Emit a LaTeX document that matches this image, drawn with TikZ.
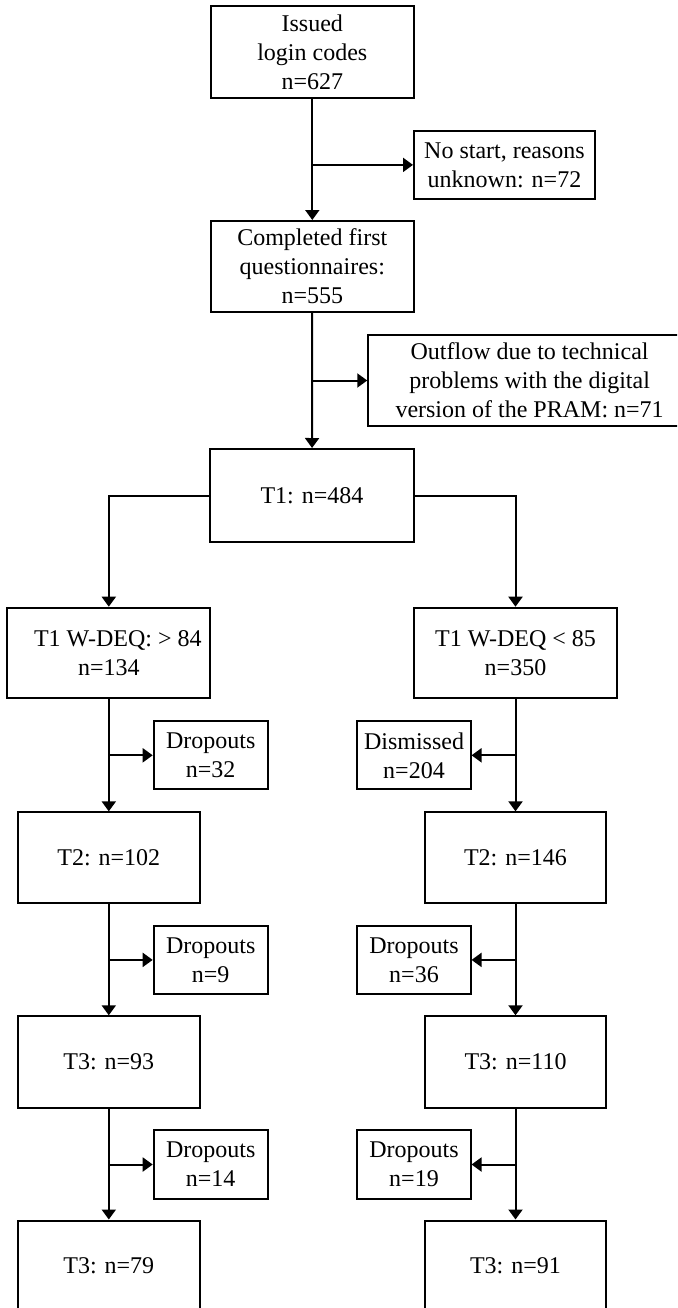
\documentclass[tikz,border=0pt]{standalone}
\usepackage{fontspec}
\setmainfont{Liberation Serif}
\usetikzlibrary{arrows.meta}
\tikzset{
  box/.style={draw, line width=2pt, inner sep=0pt, align=center,
    font=\fontsize{24}{29}\selectfont},
  arr/.style={line width=2pt, -{Triangle[width=14pt,length=10pt]}}
}
\begin{document}
\begin{tikzpicture}[x=1pt,y=-1pt]
\clip (0,0) rectangle (677,1308);
% main trunk
\node[box, minimum width=203.3pt, minimum height=92.3pt] (issued) at (312.3,51.9) {Issued\\login codes\\n=627};
\node[box, minimum width=181pt, minimum height=68.3pt] (nostart) at (504.5,164.9) {No start, reasons\\unknown: n=72};
\node[box, minimum width=203.3pt, minimum height=91pt] (completed) at (312.3,266.5) {Completed first\\questionnaires:\\n=555};
\node[box, minimum width=322.7pt, minimum height=91pt] (outflow) at (529.6,380.5) {Outflow due to technical\\problems with the digital\\version of the PRAM: n=71};
\node[box, minimum width=203.3pt, minimum height=93pt] (t1) at (312,495.5) {T1: n=484};
% left branch
\node[box, minimum width=203pt, minimum height=90.6pt] (l1) at (108.8,653) {\hspace*{18pt}T1 W-DEQ: > 84\\n=134};
\node[box, minimum width=114pt, minimum height=68pt] (ld1) at (210.7,755.3) {Dropouts\\n=32};
\node[box, minimum width=181.4pt, minimum height=90.7pt] (l2) at (108.8,857.7) {T2: n=102};
\node[box, minimum width=114pt, minimum height=68.3pt] (ld2) at (210.7,959.9) {Dropouts\\n=9};
\node[box, minimum width=181.4pt, minimum height=91.4pt] (l3) at (108.8,1062) {T3: n=93};
\node[box, minimum width=114pt, minimum height=68.4pt] (ld3) at (210.7,1164.5) {Dropouts\\n=14};
\node[box, minimum width=181.4pt, minimum height=91pt] (l4) at (108.8,1266) {T3: n=79};
% right branch
\node[box, minimum width=203.8pt, minimum height=90.6pt] (r1) at (515.5,653) {T1 W-DEQ < 85\\n=350};
\node[box, minimum width=113.1pt, minimum height=68pt] (rd1) at (414,755.3) {Dismissed\\n=204};
\node[box, minimum width=181.3pt, minimum height=90.7pt] (r2) at (515.5,857.7) {T2: n=146};
\node[box, minimum width=113.1pt, minimum height=68.3pt] (rd2) at (414,959.9) {Dropouts\\n=36};
\node[box, minimum width=181.3pt, minimum height=91.4pt] (r3) at (515.5,1062) {T3: n=110};
\node[box, minimum width=113.1pt, minimum height=68.4pt] (rd3) at (414,1164.5) {Dropouts\\n=19};
\node[box, minimum width=181.3pt, minimum height=91pt] (r4) at (515.5,1266) {T3: n=91};
% connectors trunk
\draw[arr] (issued) -- (completed);
\draw[arr] (issued.south |- nostart.west) -- (nostart.west);
\draw[arr] (completed) -- (t1);
\draw[arr] (completed.south |- outflow.west) -- (outflow.west);
\draw[arr] (t1.west) -| (l1.north);
\draw[arr] (t1.east) -| (r1.north);
% left chain
\draw[arr] (l1) -- (l2);
\draw[arr] (l1.south |- ld1.west) -- (ld1.west);
\draw[arr] (l2) -- (l3);
\draw[arr] (l2.south |- ld2.west) -- (ld2.west);
\draw[arr] (l3) -- (l4);
\draw[arr] (l3.south |- ld3.west) -- (ld3.west);
% right chain
\draw[arr] (r1) -- (r2);
\draw[arr] (r1.south |- rd1.east) -- (rd1.east);
\draw[arr] (r2) -- (r3);
\draw[arr] (r2.south |- rd2.east) -- (rd2.east);
\draw[arr] (r3) -- (r4);
\draw[arr] (r3.south |- rd3.east) -- (rd3.east);
\end{tikzpicture}
\end{document}
